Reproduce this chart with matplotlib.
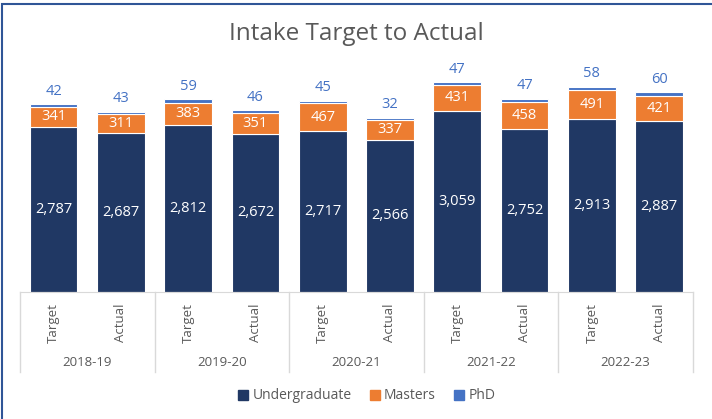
import matplotlib
matplotlib.use("Agg")
import matplotlib.pyplot as plt
from matplotlib.patches import Rectangle

plt.rcParams['font.family'] = ['Open Sans', 'DejaVu Sans']

years = ['2018-19', '2019-20', '2020-21', '2021-22', '2022-23']
kinds = ['Target', 'Actual']
undergrad = [2787, 2687, 2812, 2672, 2717, 2566, 3059, 2752, 2913, 2887]
masters = [341, 311, 383, 351, 467, 337, 431, 458, 491, 421]
phd = [42, 43, 59, 46, 45, 32, 47, 47, 58, 60]

c_ug = '#203864'
c_ms = '#ED7D31'
c_phd = '#4472C4'
grey = '#595959'

fig = plt.figure(figsize=(7.12, 4.19), dpi=100)
ax = fig.add_axes([0.028, 0.303, 0.945, 0.566])

x = list(range(len(undergrad)))
w = 0.71
b1 = ax.bar(x, undergrad, w, color=c_ug, edgecolor='white', linewidth=0.8)
bot2 = undergrad
b2 = ax.bar(x, masters, w, bottom=bot2, color=c_ms, edgecolor='white', linewidth=0.8)
bot3 = [u + m for u, m in zip(undergrad, masters)]
b3 = ax.bar(x, phd, w, bottom=bot3, color=c_phd, edgecolor='white', linewidth=0.8)

ax.bar_label(b1, labels=[f'{v:,}' for v in undergrad], label_type='center',
             color='white', fontsize=10.5)
ax.bar_label(b2, labels=[str(v) for v in masters], label_type='center',
             color='white', fontsize=10.5)
ax.bar_label(b3, labels=[str(v) for v in phd], padding=4,
             color=c_phd, fontsize=10.5)

ax.set_ylim(0, 4000)
ax.set_xlim(-0.5, len(x) - 0.5)
ax.set_yticks([])
for s in ['top', 'right', 'left']:
    ax.spines[s].set_visible(False)
ax.spines['bottom'].set_color('#D9D9D9')

ax.set_xticks(x)
ax.set_xticklabels([kinds[i % 2] for i in x], rotation=90, color=grey, fontsize=9.5)
ax.tick_params(axis='x', length=0, pad=8)

# second level of the category axis (years) with group separators
trans = ax.get_xaxis_transform()
for i, yr in enumerate(years):
    ax.text(2 * i + 0.5, -0.295, yr, transform=trans, ha='center', va='center',
            color=grey, fontsize=9.5)
for k in range(len(years) + 1):
    ax.plot([2 * k - 0.5, 2 * k - 0.5], [0, -0.338], transform=trans,
            color='#D9D9D9', lw=1, clip_on=False)

fig.text(0.5, 0.918, 'Intake Target to Actual', ha='center', va='center',
         color=grey, fontsize=17.5)

handles = [Rectangle((0, 0), 1, 1, color=c) for c in (c_ug, c_ms, c_phd)]
fig.legend(handles, ['Undergraduate', 'Masters', 'PhD'], loc='center',
           bbox_to_anchor=(0.515, 0.055), ncol=3, frameon=False, fontsize=10,
           labelcolor=grey, handlelength=0.75, handleheight=0.75,
           handletextpad=0.3, columnspacing=1.3)

fig.patches.append(Rectangle((0.003, -0.01), 1.2, 1.0, transform=fig.transFigure,
                             fill=False, edgecolor='#2F5597', lw=1.5))

fig.savefig('out.png', dpi=100)
